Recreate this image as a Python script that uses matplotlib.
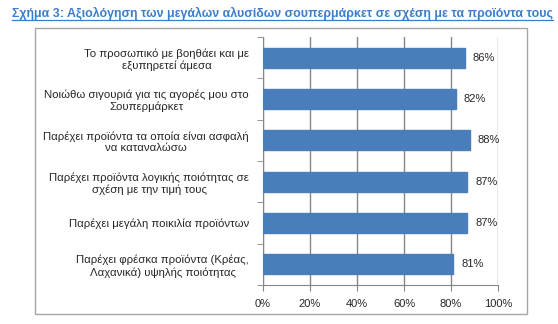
import matplotlib
matplotlib.use("Agg")
import matplotlib.pyplot as plt
from matplotlib.patches import Rectangle
from matplotlib.lines import Line2D
from matplotlib.ticker import MultipleLocator, FuncFormatter

title = "Σχήμα 3: Αξιολόγηση των μεγάλων αλυσίδων σουπερμάρκετ σε σχέση με τα προϊόντα τους"
categories = [
    "Το προσωπικό με βοηθάει και με\nεξυπηρετεί άμεσα",
    "Νοιώθω σιγουριά για τις αγορές μου στο\nΣουπερμάρκετ",
    "Παρέχει προϊόντα τα οποία είναι ασφαλή\nνα καταναλώσω",
    "Παρέχει προϊόντα λογικής ποιότητας σε\nσχέση με την τιμή τους",
    "Παρέχει μεγάλη ποικιλία προϊόντων",
    "Παρέχει φρέσκα προϊόντα (Κρέας,\nΛαχανικά) υψηλής ποιότητας",
]
values = [86, 82, 88, 87, 87, 81]

plt.rcParams["font.family"] = ["Liberation Sans", "DejaVu Sans"]

W, H = 558, 324
fig = plt.figure(figsize=(W / 100, H / 100), dpi=100)
fig.patch.set_facecolor("white")

# outer chart frame
fig.add_artist(Rectangle((35 / W, 1 - 314 / H), (527 - 35) / W, (314 - 28) / H,
                         transform=fig.transFigure, fill=False,
                         edgecolor="#a6a6a6", linewidth=1.0))

# title with underline
t = fig.text(12 / W, 1 - 13 / H, title, color="#3d7cc9", fontsize=8.9,
             fontweight="bold", ha="left", va="center")
fig.canvas.draw()
bb = t.get_window_extent(fig.canvas.get_renderer())
fig.add_artist(Line2D([bb.x0 / W, bb.x1 / W], [(bb.y0 - 0.5) / H, (bb.y0 - 0.5) / H],
                      transform=fig.transFigure, color="#3d7cc9", linewidth=0.9))

ax = fig.add_axes([263 / W, 1 - 285 / H, (498 - 263) / W, (285 - 37) / H])
n = len(categories)
ypos = list(range(n))
ax.barh(ypos, values, height=0.49, color="#4a7ebb", edgecolor="#4a7ebb", zorder=3)
ax.set_ylim(n - 0.5, -0.5)
ax.set_xlim(0, 100)

ax.xaxis.set_major_locator(MultipleLocator(20))
ax.xaxis.set_major_formatter(FuncFormatter(lambda v, p: f"{int(v)}%"))
ax.grid(axis="x", color="#868686", linewidth=1.0, zorder=0)

ax.set_yticks(ypos)
ax.set_yticklabels(categories, multialignment="center", fontsize=8.2, color="#262626")
ax.set_yticks([i - 0.5 for i in range(n + 1)], minor=True)
ax.tick_params(axis="y", which="major", length=0, pad=10)
ax.tick_params(axis="y", which="minor", length=4, color="#868686", direction="out")
ax.tick_params(axis="x", length=4, color="#868686", labelsize=8, labelcolor="#262626", pad=6)

for s in ["top", "right"]:
    ax.spines[s].set_visible(False)
for s in ["left", "bottom"]:
    ax.spines[s].set_color("#868686")

for y, v in zip(ypos, values):
    ax.text(v + 3.3, y, f"{v}%", va="center", ha="left", fontsize=8, color="#262626", zorder=4)

fig.savefig("out.png", dpi=100, facecolor="white")
